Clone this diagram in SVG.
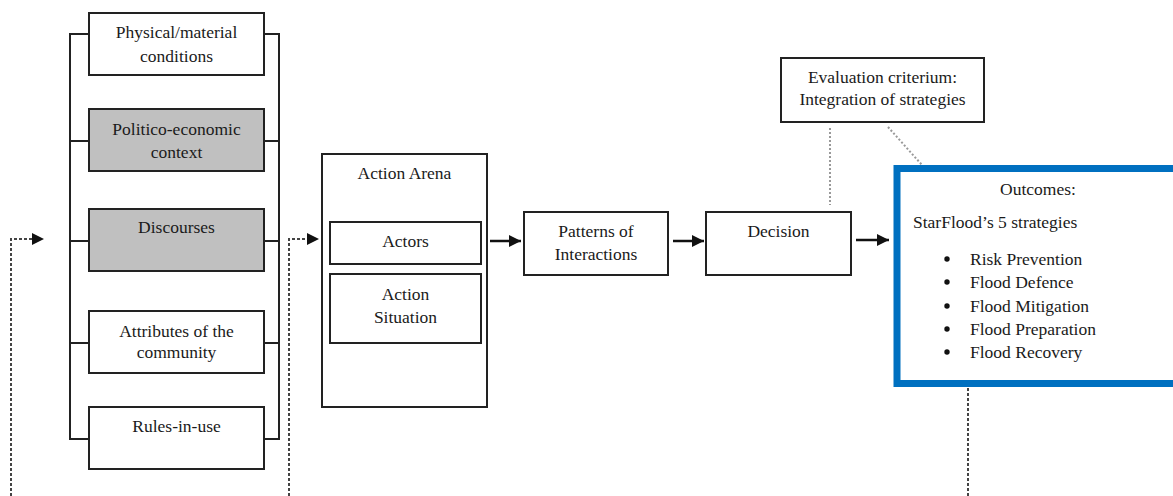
<svg xmlns="http://www.w3.org/2000/svg" width="1173" height="496" viewBox="0 0 1173 496">
<defs>
<marker id="ah" viewBox="0 0 12 12" refX="12" refY="6" markerWidth="12" markerHeight="12" markerUnits="userSpaceOnUse" orient="auto">
<path d="M0,0 L12,6 L0,12 Z" fill="#111"/>
</marker>
<style>
.box{fill:#fff;stroke:#222;stroke-width:2}
.grey{fill:#c0c0c0;stroke:#222;stroke-width:2}
.t{font-family:"Liberation Serif","Times New Roman",serif;font-size:17.5px;fill:#1a1a1a;text-anchor:middle}
.tl{font-family:"Liberation Serif","Times New Roman",serif;font-size:17.5px;fill:#1a1a1a}
.br{fill:none;stroke:#222;stroke-width:2}
.arr{fill:none;stroke:#111;stroke-width:2.5;marker-end:url(#ah)}
.dash{fill:none;stroke:#444;stroke-width:2;stroke-dasharray:3 2}
.dot{fill:none;stroke:#999;stroke-width:2;stroke-dasharray:2 2}
</style>
</defs>
<rect width="1173" height="496" fill="#fff"/>
<g id="connectors">
<path class="br" d="M89,34 H70 V439 H89 M70,141 H89 M70,241 H89 M70,343 H89"/>
<path class="br" d="M264,34 H279 V439 H264 M264,141 H279 M264,241 H279 M264,343 H279"/>
<path class="dash" d="M11,496 V239 H33"/>
<path d="M32,233 L44,239 L32,245 Z" fill="#111"/>
<path class="dash" d="M289,496 V239 H308"/>
<path d="M307,233 L319,239 L307,245 Z" fill="#111"/>
<path class="arr" d="M490,241 H521"/>
<path class="arr" d="M673,241 H704"/>
<path class="arr" d="M856,240 H889"/>
<path class="dot" d="M830,128 V205"/>
<path class="dot" d="M888,127 L922,165"/>
<path class="dash" d="M968,388 V496"/>
</g>
<g id="n-physical">
<rect class="box" x="89" y="13" width="175" height="62"/>
<text class="t" x="176.5" y="38">Physical/material</text>
<text class="t" x="176.5" y="62">conditions</text>
</g>
<g id="n-politico">
<rect class="grey" x="89" y="109" width="175" height="62"/>
<text class="t" x="176.5" y="135">Politico-economic</text>
<text class="t" x="176.5" y="158">context</text>
</g>
<g id="n-discourses">
<rect class="grey" x="89" y="209" width="175" height="62"/>
<text class="t" x="176.5" y="233">Discourses</text>
</g>
<g id="n-attributes">
<rect class="box" x="89" y="311" width="175" height="62"/>
<text class="t" x="176.5" y="337">Attributes of the</text>
<text class="t" x="176.5" y="358">community</text>
</g>
<g id="n-rules">
<rect class="box" x="89" y="407" width="175" height="62"/>
<text class="t" x="176.5" y="432">Rules-in-use</text>
</g>
<g id="n-arena">
<rect class="box" x="322" y="154" width="165" height="253"/>
<text class="t" x="404.5" y="179">Action Arena</text>
</g>
<g id="n-actors">
<rect class="box" x="330" y="222" width="151" height="42"/>
<text class="t" x="405.5" y="247">Actors</text>
</g>
<g id="n-situation">
<rect class="box" x="330" y="274" width="151" height="69"/>
<text class="t" x="405.5" y="300">Action</text>
<text class="t" x="405.5" y="323">Situation</text>
</g>
<g id="n-patterns">
<rect class="box" x="524" y="212" width="144" height="63"/>
<text class="t" x="596" y="237">Patterns of</text>
<text class="t" x="596" y="260">Interactions</text>
</g>
<g id="n-decision">
<rect class="box" x="706" y="212" width="145" height="63"/>
<text class="t" x="778.5" y="237">Decision</text>
</g>
<g id="n-evaluation">
<rect class="box" x="781" y="58" width="203" height="64"/>
<text class="t" x="882.5" y="83">Evaluation criterium:</text>
<text class="t" x="882.5" y="105">Integration of strategies</text>
</g>
<g id="n-outcomes">
<rect x="897" y="168.5" width="300" height="215" fill="#fff" stroke="#0070c0" stroke-width="7"/>
<text class="t" x="1038" y="195">Outcomes:</text>
<text class="tl" x="913" y="228">StarFlood’s 5 strategies</text>
<circle cx="947" cy="259" r="2.7" fill="#111"/>
<circle cx="947" cy="282" r="2.7" fill="#111"/>
<circle cx="947" cy="306" r="2.7" fill="#111"/>
<circle cx="947" cy="329" r="2.7" fill="#111"/>
<circle cx="947" cy="352" r="2.7" fill="#111"/>
<text class="tl" x="970" y="265">Risk Prevention</text>
<text class="tl" x="970" y="288">Flood Defence</text>
<text class="tl" x="970" y="312">Flood Mitigation</text>
<text class="tl" x="970" y="335">Flood Preparation</text>
<text class="tl" x="970" y="358">Flood Recovery</text>
</g>
</svg>
